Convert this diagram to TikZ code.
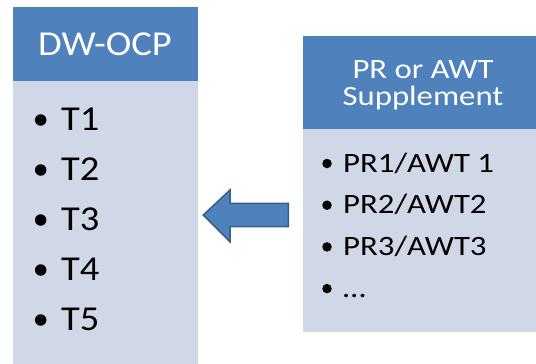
\documentclass[tikz,border=0pt]{standalone}
\usepackage{fontspec}
\setmainfont{Carlito}
\newfontfamily\wideL[FakeStretch=1.1]{Carlito}
\newfontfamily\wideR[FakeStretch=1.17]{Carlito}
\definecolor{hdr}{HTML}{4F81BD}
\definecolor{bodyc}{HTML}{D0D8E8}
\definecolor{arrline}{HTML}{385D8A}
\begin{document}
\begin{tikzpicture}[x=1pt,y=-1pt,
  hdrtxt/.style={text=white,inner sep=0pt,anchor=base},
  dotbig/.style={circle,fill=black,inner sep=0pt,minimum size=11.5pt},
  dotsmall/.style={circle,fill=black,inner sep=0pt,minimum size=9.5pt},
  item/.style={inner sep=0pt,anchor=base west},
  bigf/.style={font=\wideL\fontsize{35}{35}\selectfont},
  smallf/.style={font=\wideR\fontsize{28}{28}\selectfont}]
\useasboundingbox (0,0) rectangle (536,364);
% left box
\fill[bodyc] (13,81) rectangle (197.5,366);
\fill[hdr] (13,7) rectangle (197.5,81);
\node[hdrtxt,bigf] (dwocp) at (105,55) {DW-OCP};
\foreach \i/\t in {1/T1,2/T2,3/T3,4/T4,5/T5}{
  \node[dotbig] (lb\i) at (40.7,{120+50*(\i-1)}) {};
  \node[item,bigf] (lt\i) at (61,{130+50*(\i-1)}) {\t};
}
% right box
\fill[bodyc] (303,129) rectangle (545,332);
\fill[hdr] (303,36) rectangle (545,129);
\node[hdrtxt,smallf] (pr1) at (423,78) {PR or AWT};
\node[hdrtxt,smallf] (pr2) at (423,105) {Supplement};
\foreach \i/\t in {1/PR1\slash AWT 1,2/PR2\slash AWT2,3/PR3\slash AWT3,4/…}{
  \node[dotsmall] (rb\i) at (327,{163.5+41.7*(\i-1)}) {};
  \node[item,smallf] (rt\i) at (343,{172+41.7*(\i-1)}) {\t};
}
% arrow
\draw[fill=hdr,draw=arrline,line width=1.5pt,line join=miter]
  (203.3,215) -- (230,190) -- (230,203.3) -- (288.3,203.3) -- (288.3,226.7)
  -- (230,226.7) -- (230,241.7) -- cycle;
\end{tikzpicture}
\end{document}
